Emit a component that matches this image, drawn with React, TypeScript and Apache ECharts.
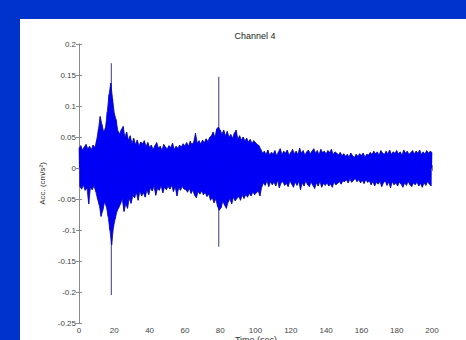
import React, { useEffect, useRef } from "react";
import * as echarts from "echarts";

// Time axis ticks (sec) and acceleration ticks (cm/s^2)
const timeTicks = [0, 20, 40, 60, 80, 100, 120, 140, 160, 180, 200];
const accTicks = [-0.25, -0.2, -0.15, -0.1, -0.05, 0, 0.05, 0.1, 0.15, 0.2];

// Upper envelope peaks, one per second, t = 0..200
const upperPeaks = [
  0.032, 0.036, 0.029, 0.034, 0.038, 0.031, 0.035, 0.030, 0.037, 0.033,
  0.045, 0.062, 0.083, 0.070, 0.058, 0.065, 0.090, 0.118, 0.137, 0.112,
  0.088, 0.078, 0.060, 0.055, 0.062, 0.067, 0.050, 0.058, 0.045, 0.052,
  0.040, 0.048, 0.038, 0.045, 0.036, 0.042, 0.039, 0.044, 0.035, 0.041,
  0.033, 0.037, 0.030, 0.036, 0.041, 0.032, 0.035, 0.029, 0.038, 0.034,
  0.031, 0.036, 0.033, 0.040, 0.030, 0.035, 0.032, 0.037, 0.034, 0.039,
  0.036, 0.041, 0.035, 0.043, 0.038, 0.042, 0.056, 0.040, 0.044, 0.039,
  0.045, 0.041, 0.047, 0.043, 0.049, 0.052, 0.058, 0.050, 0.063, 0.066,
  0.061, 0.055, 0.061, 0.052, 0.059, 0.050, 0.054, 0.048, 0.056, 0.061,
  0.047, 0.052, 0.045, 0.050, 0.044, 0.048, 0.042, 0.046, 0.040, 0.044,
  0.041, 0.038, 0.036, 0.030, 0.024, 0.027, 0.022, 0.029, 0.021, 0.025,
  0.023, 0.028, 0.020, 0.026, 0.031, 0.022, 0.027, 0.024, 0.029, 0.021,
  0.025, 0.030, 0.023, 0.027, 0.022, 0.032, 0.024, 0.028, 0.021, 0.026,
  0.029, 0.023, 0.027, 0.031, 0.024, 0.028, 0.022, 0.030, 0.025, 0.027,
  0.023, 0.028, 0.025, 0.030, 0.022, 0.026, 0.024, 0.021, 0.025, 0.020,
  0.023, 0.019, 0.022, 0.018, 0.024, 0.020, 0.017, 0.022, 0.019, 0.023,
  0.020, 0.024, 0.018, 0.022, 0.021, 0.025, 0.022, 0.027, 0.023, 0.026,
  0.021, 0.028, 0.024, 0.022, 0.027, 0.023, 0.029, 0.022, 0.026, 0.024,
  0.028, 0.023, 0.026, 0.021, 0.029, 0.024, 0.027, 0.022, 0.025, 0.028,
  0.023, 0.027, 0.024, 0.029, 0.022, 0.026, 0.023, 0.028, 0.024, 0.027,
  0.025,
];

// Lower envelope troughs, one per second, at t = 0.5..199.5
const lowerPeaks = [
  -0.030, -0.034, -0.028, -0.036, -0.032, -0.058, -0.031, -0.035, -0.029, -0.038,
  -0.050, -0.060, -0.078, -0.068, -0.055, -0.062, -0.078, -0.100, -0.124, -0.096,
  -0.082, -0.070, -0.064, -0.058, -0.050, -0.070, -0.058, -0.065, -0.049, -0.057,
  -0.045, -0.048, -0.040, -0.052, -0.038, -0.045, -0.040, -0.047, -0.036, -0.043,
  -0.032, -0.037, -0.030, -0.044, -0.033, -0.036, -0.029, -0.040, -0.031, -0.035,
  -0.030, -0.034, -0.028, -0.038, -0.031, -0.045, -0.032, -0.036, -0.030, -0.034,
  -0.035, -0.039, -0.033, -0.041, -0.036, -0.044, -0.048, -0.038, -0.042, -0.037,
  -0.043, -0.040, -0.046, -0.042, -0.052, -0.048, -0.056, -0.050, -0.062, -0.068,
  -0.064, -0.054, -0.060, -0.065, -0.055, -0.050, -0.058, -0.047, -0.053, -0.049,
  -0.046, -0.052, -0.044, -0.049, -0.043, -0.047, -0.041, -0.045, -0.039, -0.043,
  -0.040, -0.037, -0.045, -0.031, -0.024, -0.028, -0.021, -0.030, -0.022, -0.027,
  -0.023, -0.029, -0.020, -0.032, -0.024, -0.022, -0.028, -0.025, -0.030, -0.021,
  -0.026, -0.031, -0.023, -0.028, -0.022, -0.035, -0.024, -0.029, -0.021, -0.027,
  -0.030, -0.023, -0.028, -0.033, -0.024, -0.029, -0.022, -0.031, -0.025, -0.028,
  -0.024, -0.029, -0.026, -0.031, -0.023, -0.027, -0.025, -0.022, -0.026, -0.021,
  -0.022, -0.019, -0.024, -0.018, -0.023, -0.020, -0.017, -0.022, -0.019, -0.024,
  -0.020, -0.025, -0.019, -0.023, -0.021, -0.027, -0.022, -0.029, -0.023, -0.026,
  -0.022, -0.030, -0.024, -0.021, -0.028, -0.023, -0.032, -0.022, -0.027, -0.024,
  -0.029, -0.023, -0.026, -0.031, -0.024, -0.028, -0.022, -0.027, -0.030, -0.024,
  -0.027, -0.023, -0.029, -0.025, -0.031, -0.024, -0.028, -0.022, -0.026, -0.029,
];

// Isolated thin spikes (time, max, min)
const spikeTimes = [18.3, 79.2];
const spikeMax = [0.169, 0.147];
const spikeMin = [-0.205, -0.127];

const FONT = '"Liberation Sans", Arial, sans-serif';

export default function App() {
  const ref = useRef<HTMLDivElement>(null);

  useEffect(() => {
    if (!ref.current) return;
    const chart = echarts.init(ref.current, undefined, { renderer: "svg" });

    const upperData: [number, number][] = upperPeaks.map((v, i) => [i, v]);
    const lowerData: [number, number][] = lowerPeaks.map((v, i) => [i + 0.5, v]);
    const trace: [number, number][] = [];
    for (let i = 0; i < upperPeaks.length; i++) {
      trace.push(upperData[i]);
      if (i < lowerData.length) trace.push(lowerData[i]);
    }
    const spikeData = spikeTimes.map((t, i) => [t, spikeMax[i], spikeMin[i]]);

    const fmt = (v: number) => String(+v.toFixed(2));
    const axisLine = { show: true, lineStyle: { color: "#8a8a8a", width: 1 } };
    const tick = { show: true, inside: true, length: 3, lineStyle: { color: "#8a8a8a" } };
    const label = { color: "#444", fontSize: 8, fontFamily: FONT, margin: 3 };

    chart.setOption({
      animation: false,
      graphic: [
        {
          type: "text",
          x: 255,
          y: 36,
          style: {
            text: "Channel 4",
            textAlign: "center",
            textVerticalAlign: "middle",
            fill: "#222",
            font: `9px ${FONT}`,
          },
        },
        {
          type: "text",
          x: 256,
          y: 335,
          style: {
            text: "Time (sec)",
            textAlign: "center",
            textVerticalAlign: "top",
            fill: "#333",
            font: `9px ${FONT}`,
          },
        },
      ],
      grid: {
        left: 79,
        right: 34,
        top: 44,
        bottom: 17,
        show: false,
        containLabel: false,
        outerBoundsMode: "none",
      },
      xAxis: [
        {
          type: "value",
          min: timeTicks[0],
          max: timeTicks[timeTicks.length - 1],
          interval: 20,
          axisLine,
          axisTick: tick,
          splitLine: { show: false },
          axisLabel: { ...label, formatter: fmt },
        },
        {
          type: "value",
          position: "top",
          min: timeTicks[0],
          max: timeTicks[timeTicks.length - 1],
          interval: 20,
          axisLine,
          axisTick: tick,
          splitLine: { show: false },
          axisLabel: { show: false },
        },
      ],
      yAxis: [
        {
          type: "value",
          min: accTicks[0],
          max: accTicks[accTicks.length - 1],
          interval: 0.05,
          axisLine,
          axisTick: tick,
          splitLine: { show: false },
          axisLabel: { ...label, formatter: fmt },
          name: "Acc. (cm/s²)",
          nameLocation: "middle",
          nameGap: 25,
          nameTextStyle: { color: "#333", fontSize: 8, fontFamily: FONT },
        },
        {
          type: "value",
          position: "right",
          min: accTicks[0],
          max: accTicks[accTicks.length - 1],
          interval: 0.05,
          axisLine,
          axisTick: tick,
          splitLine: { show: false },
          axisLabel: { show: false },
        },
      ],
      series: [
        {
          type: "custom",
          data: spikeData,
          encode: { x: 0, y: [1, 2] },
          clip: true,
          z: 1,
          renderItem: (params: any, api: any) => {
            const top = api.coord([api.value(0), api.value(1)]);
            const bot = api.coord([api.value(0), api.value(2)]);
            return {
              type: "line",
              shape: { x1: top[0], y1: top[1], x2: bot[0], y2: bot[1] },
              style: { stroke: "#3a3a7a", lineWidth: 1 },
            };
          },
        },
        {
          type: "line",
          data: upperData,
          symbol: "none",
          lineStyle: { color: "#14148c", width: 0.8 },
          areaStyle: { color: "#0000ff", opacity: 1, origin: 0 },
          clip: true,
          z: 2,
        },
        {
          type: "line",
          data: lowerData,
          symbol: "none",
          lineStyle: { color: "#14148c", width: 0.8 },
          areaStyle: { color: "#0000ff", opacity: 1, origin: 0 },
          clip: true,
          z: 2,
        },
        {
          type: "line",
          data: trace,
          symbol: "none",
          lineStyle: { color: "#0000ee", width: 0.6 },
          clip: true,
          z: 3,
        },
      ],
    });

    return () => chart.dispose();
  }, []);

  return (
    <div
      style={{
        position: "fixed",
        left: 0,
        top: 0,
        width: 466,
        height: 340,
        background: "#0033cc",
        overflow: "hidden",
      }}
    >
      <div
        style={{
          position: "absolute",
          left: 20,
          top: 19,
          right: 0,
          bottom: 0,
          background: "#ffffff",
        }}
      />
      <div
        ref={ref}
        style={{ position: "absolute", left: 0, top: 0, width: 466, height: 340 }}
      />
    </div>
  );
}
